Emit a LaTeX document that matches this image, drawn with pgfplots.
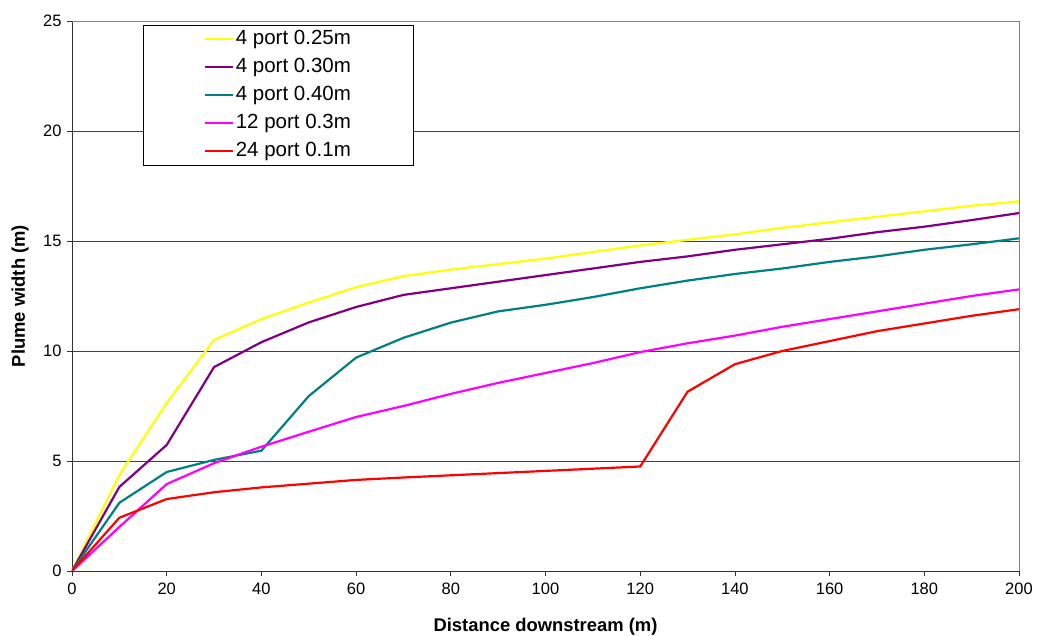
\documentclass[border=0pt]{standalone}
\usepackage{pgfplots}
\pgfplotsset{compat=1.18}
\usepackage{fontspec}
\setmainfont{Liberation Sans}
\definecolor{cyel}{HTML}{FFFF00}
\definecolor{cpur}{HTML}{800080}
\definecolor{cteal}{HTML}{008080}
\definecolor{cmag}{HTML}{FF00FF}
\definecolor{cred}{HTML}{FF0000}
\begin{document}
\begin{tikzpicture}
\begin{axis}[
  scale only axis,
  width=947pt, height=550pt,
  xmin=0, xmax=200, ymin=0, ymax=25,
  xtick={0,20,...,200}, ytick={0,5,...,25},
  axis x line*=bottom, axis y line*=left,
  axis line style={black!80, line width=0.8pt},
  tick style={black!80, line width=0.8pt},
  tick align=outside, major tick length=5pt,
  ymajorgrids, grid style={black!75, line width=0.8pt},
  ticklabel style={font=\fontsize{16.5}{18}\selectfont},
  xticklabel style={yshift=-3pt},
  yticklabel style={xshift=-2pt},
  /pgf/number format/assume math mode=true,
  xlabel={\textbf{Distance downstream (m)}},
  ylabel={\textbf{Plume width (m)}},
  label style={font=\fontsize{18.4}{20}\selectfont},
  xlabel style={at={(axis description cs:0.5,-0.1018)}, anchor=center},
  ylabel style={at={(axis description cs:-0.0549,0.5)}, anchor=center},
  legend style={at={(rel axis cs:0.075,0.993)}, anchor=north west,
    draw=black, line width=0.8pt, fill=white,
    font=\fontsize{20.5}{22}\selectfont,
    inner xsep=60pt, inner ysep=0pt, row sep=0pt,
    nodes={text height=15pt, text depth=5pt, inner ysep=4pt}},
  legend cell align=left,
  legend image code/.code={\draw[#1, line width=2.4pt] (0pt,0pt) -- (28pt,0pt);},
  every axis plot/.append style={line width=2.2pt},
  after end axis/.code={
    \draw[black!50, line width=0.8pt] (rel axis cs:0,1) -- (rel axis cs:1,1) -- (rel axis cs:1,0);
  },
]
\addplot[cyel] coordinates {(0,0) (10,4.36) (20,7.64) (30,10.5) (40,11.45) (50,12.2) (60,12.9) (70,13.4) (80,13.7) (90,13.95) (100,14.2) (110,14.5) (120,14.8) (130,15.05) (140,15.3) (150,15.6) (160,15.85) (170,16.1) (180,16.35) (190,16.6) (200,16.8)};
\addlegendentry{4 port 0.25m}
\addplot[cpur] coordinates {(0,0) (10,3.82) (20,5.73) (30,9.27) (40,10.4) (50,11.3) (60,12.0) (70,12.55) (80,12.85) (90,13.15) (100,13.45) (110,13.75) (120,14.05) (130,14.3) (140,14.6) (150,14.85) (160,15.1) (170,15.4) (180,15.65) (190,15.95) (200,16.27)};
\addlegendentry{4 port 0.30m}
\addplot[cteal] coordinates {(0,0) (10,3.1) (20,4.5) (30,5.05) (40,5.47) (50,7.95) (60,9.7) (70,10.6) (80,11.29) (90,11.8) (100,12.1) (110,12.45) (120,12.85) (130,13.2) (140,13.5) (150,13.75) (160,14.05) (170,14.3) (180,14.6) (190,14.85) (200,15.12)};
\addlegendentry{4 port 0.40m}
\addplot[cmag] coordinates {(0,0) (10,2.0) (20,3.95) (30,4.9) (40,5.65) (50,6.33) (60,7.0) (70,7.5) (80,8.05) (90,8.55) (100,9.0) (110,9.45) (120,9.95) (130,10.35) (140,10.7) (150,11.1) (160,11.45) (170,11.8) (180,12.15) (190,12.5) (200,12.8)};
\addlegendentry{12 port 0.3m}
\addplot[cred] coordinates {(0,0) (10,2.42) (20,3.27) (30,3.58) (40,3.8) (50,3.97) (60,4.14) (70,4.25) (80,4.35) (90,4.45) (100,4.55) (110,4.65) (120,4.75) (130,8.15) (140,9.4) (150,10.0) (160,10.45) (170,10.9) (180,11.25) (190,11.6) (200,11.9)};
\addlegendentry{24 port 0.1m}
\end{axis}
\pgfresetboundingbox
\path ([shift={(-72pt,-65pt)}]current axis.south west) rectangle ([shift={(29pt,21pt)}]current axis.north east);
\end{tikzpicture}
\end{document}
